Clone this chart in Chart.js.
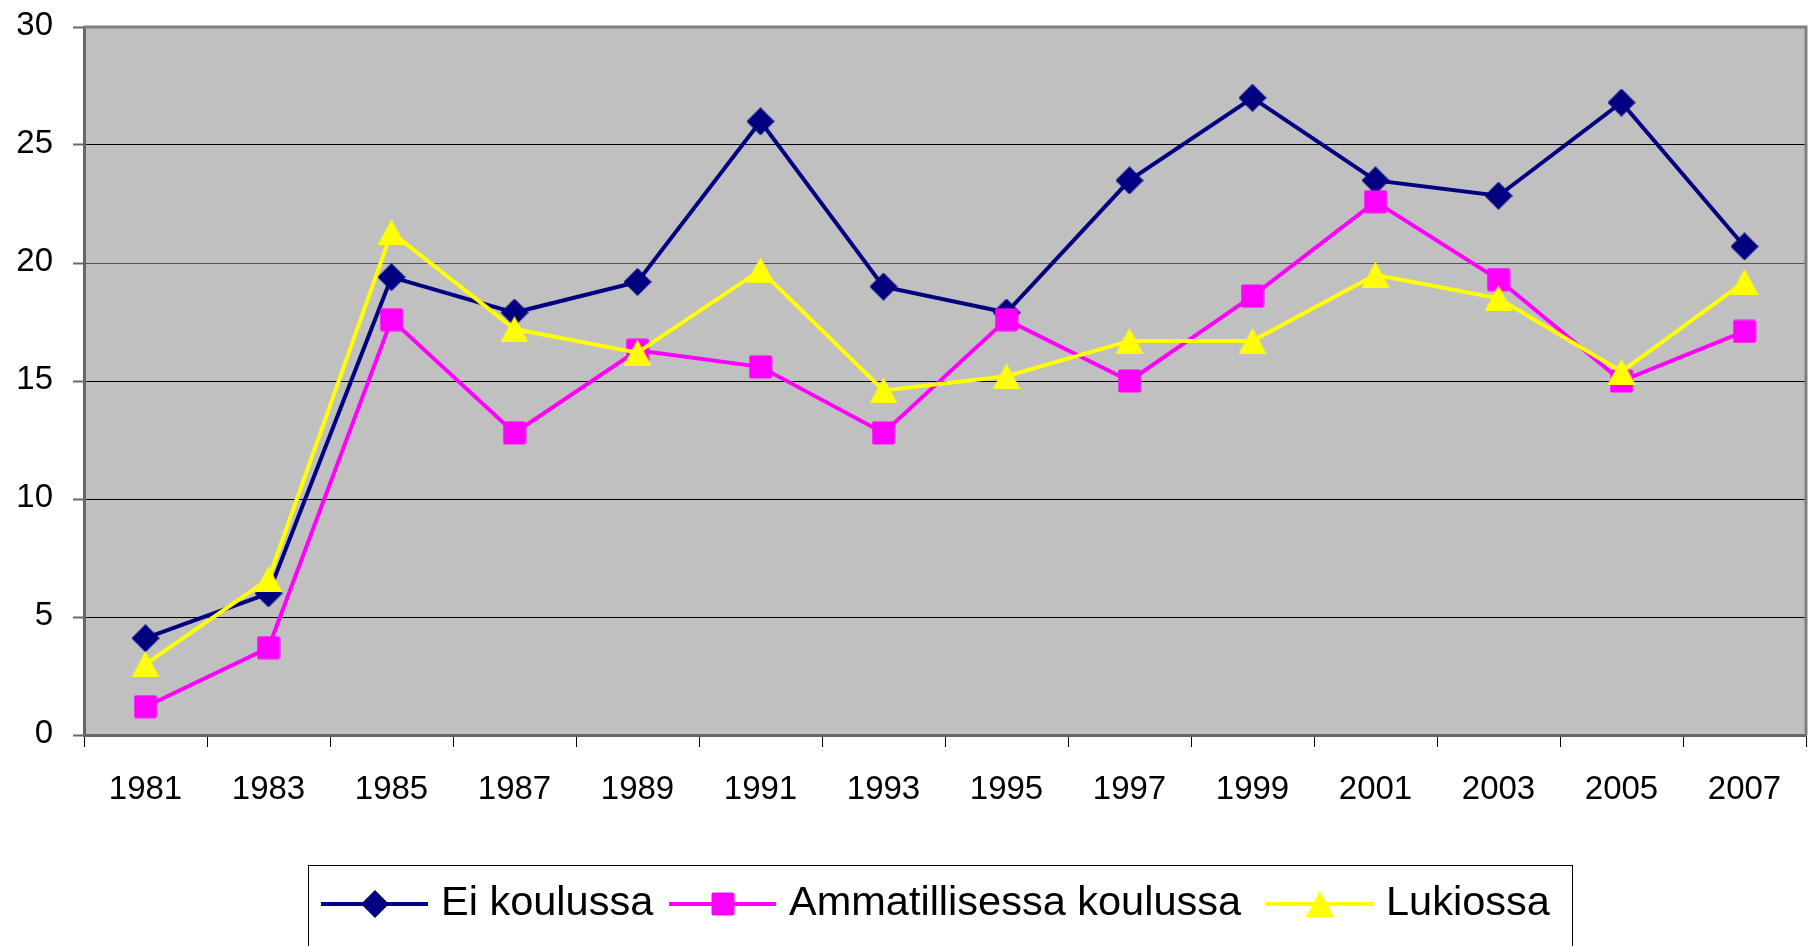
<!DOCTYPE html>
<html><head><meta charset="utf-8">
<script src="https://cdn.jsdelivr.net/npm/chart.js@4.4.1/dist/chart.umd.min.js"></script>
<style>html,body{margin:0;padding:0;background:#fff;overflow:hidden}#wrap{width:1808px;height:946px;position:relative}</style>
</head><body><div id="wrap"><canvas id="c" width="1808" height="946"></canvas></div>
<script>
const years = ['1981','1983','1985','1987','1989','1991','1993','1995','1997','1999','2001','2003','2005','2007'];
const seriesNames = ['Ei koulussa', 'Ammatillisessa koulussa', 'Lukiossa'];
const eiKoulussa     = [4.1, 6.0, 19.4, 17.9, 19.2, 26.0, 19.0, 17.9, 23.5, 27.0, 23.5, 22.85, 26.8, 20.7];
const ammatillisessa = [1.2, 3.7, 17.6, 12.8, 16.3, 15.6, 12.8, 17.6, 15.0, 18.6, 22.6, 19.3, 15.0, 17.1];
const lukiossa       = [3.0, 6.6, 21.3, 17.2, 16.2, 19.7, 14.6, 15.2, 16.7, 16.7, 19.5, 18.5, 15.4, 19.2];
const yMin = 0, yMax = 30, yStep = 5;

const colors = ['#000080', '#FF00FF', '#FFFF00'];
const FONT = '"Liberation Sans", Arial, Helvetica, sans-serif';
const legendItemX = [321, 669, 1266];

function makeMarker(kind, color) {
  const c = document.createElement('canvas');
  const g = c.getContext('2d');
  if (kind === 'diamond') {
    c.width = 28; c.height = 28;
    g.fillStyle = color; g.beginPath();
    g.moveTo(14, 0); g.lineTo(28, 14); g.lineTo(14, 28); g.lineTo(0, 14); g.closePath(); g.fill();
  } else if (kind === 'square') {
    c.width = 24; c.height = 24;
    g.fillStyle = color; g.beginPath();
    if (g.roundRect) g.roundRect(0.5, 0.5, 23, 23, 2); else g.rect(0.5, 0.5, 23, 23);
    g.fill();
  } else {
    c.width = 28; c.height = 26;
    g.fillStyle = color; g.beginPath();
    g.moveTo(14, 0); g.lineTo(28, 26); g.lineTo(0, 26); g.closePath(); g.fill();
  }
  return c;
}
const markers = [makeMarker('diamond', colors[0]), makeMarker('square', colors[1]), makeMarker('triangle', colors[2])];

const plotBg = {
  id: 'plotBg',
  beforeDraw(chart) {
    const { ctx, chartArea: a } = chart;
    ctx.save();
    ctx.fillStyle = '#C0C0C0';
    ctx.fillRect(a.left, a.top, a.right - a.left, a.bottom - a.top);
    ctx.restore();
  },
  beforeDatasetsDraw(chart) {
    const { ctx, chartArea: a } = chart;
    ctx.save();
    ctx.strokeStyle = '#808080';
    ctx.lineWidth = 3;
    ctx.beginPath();
    ctx.moveTo(a.left, a.top); ctx.lineTo(a.right, a.top); ctx.lineTo(a.right, a.bottom);
    ctx.stroke();
    ctx.restore();
  }
};

const legendBox = {
  id: 'legendBox',
  afterDraw(chart) {
    const ctx = chart.ctx;
    ctx.save();
    ctx.strokeStyle = '#000'; ctx.lineWidth = 1;
    ctx.strokeRect(308.5, 865.5, 1264, 120);
    ctx.font = '41.5px ' + FONT;
    ctx.textBaseline = 'middle';
    const y = 904;
    chart.data.datasets.forEach((ds, i) => {
      const x = legendItemX[i];
      ctx.strokeStyle = ds.borderColor; ctx.lineWidth = 4;
      ctx.beginPath(); ctx.moveTo(x, y); ctx.lineTo(x + 107, y); ctx.stroke();
      const m = ds.pointStyle;
      ctx.drawImage(m, Math.round(x + 53.5 - m.width / 2), Math.round(y - m.height / 2));
      ctx.fillStyle = '#000';
      ctx.fillText(ds.label, x + 120, y);
    });
    ctx.restore();
  }
};

const seriesData = [eiKoulussa, ammatillisessa, lukiossa];
const datasets = seriesNames.map((name, i) => ({
  label: name,
  data: seriesData[i],
  borderColor: colors[i],
  backgroundColor: colors[i],
  borderWidth: 4,
  pointStyle: markers[i],
  pointRadius: 13,
  pointHoverRadius: 13,
  tension: 0,
  fill: false,
  clip: 20,
  order: 2 - i
}));

new Chart(document.getElementById('c'), {
  type: 'line',
  data: { labels: years, datasets },
  options: {
    responsive: false,
    animation: false,
    devicePixelRatio: 1,
    events: [],
    layout: { autoPadding: false, padding: { left: 0, top: 27, right: 2, bottom: 0 } },
    plugins: { legend: { display: false }, tooltip: { enabled: false } },
    scales: {
      x: {
        offset: true,
        grid: { offset: true, drawOnChartArea: false, tickLength: 12, tickColor: '#000', tickWidth: 1 },
        border: { color: '#666666', width: 3 },
        ticks: { color: '#000', font: { family: FONT, size: 33 }, padding: 23, maxRotation: 0, autoSkip: false },
        afterFit(s) { s.height = 211; s.paddingLeft = 0; s.paddingRight = 0; }
      },
      y: {
        min: yMin, max: yMax,
        ticks: { stepSize: yStep, color: '#000', font: { family: FONT, size: 33 }, padding: 20, labelOffset: -1 },
        grid: {
          color: (c) => c.tick && c.tick.value === 30 ? 'rgba(0,0,0,0)' : (c.tick && c.tick.value === 20 ? '#555555' : '#000000'),
          lineWidth: 1, tickLength: 11, tickColor: '#666666', tickWidth: 2
        },
        border: { color: '#666666', width: 3 },
        afterFit(s) { s.width = 84; s.paddingTop = 0; s.paddingBottom = 0; }
      }
    }
  },
  plugins: [plotBg, legendBox]
});
</script>
</body></html>
